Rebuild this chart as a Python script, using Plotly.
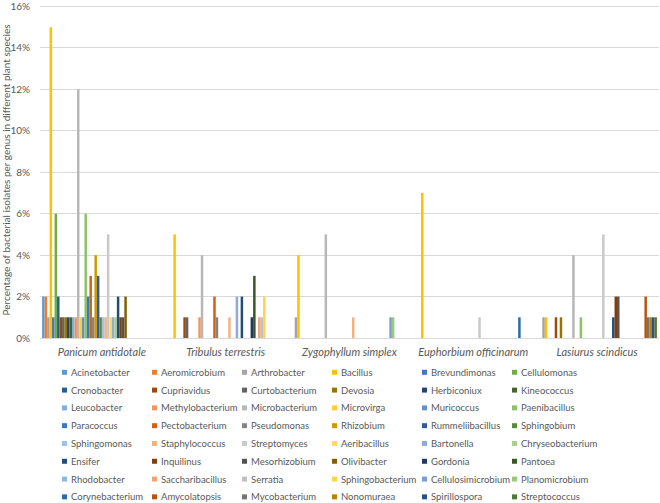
import colorsys
import plotly.graph_objects as go

plants = ["Panicum antidotale", "Tribulus terrestris", "Zygophyllum simplex",
          "Euphorbium officinarum", "Lasiurus scindicus"]

genera = [
    "Acinetobacter", "Aeromicrobium", "Arthrobacter", "Bacillus", "Brevundimonas", "Cellulomonas",
    "Cronobacter", "Cupriavidus", "Curtobacterium", "Devosia", "Herbiconiux", "Kineococcus",
    "Leucobacter", "Methylobacterium", "Microbacterium", "Microvirga", "Muricoccus", "Paenibacillus",
    "Paracoccus", "Pectobacterium", "Pseudomonas", "Rhizobium", "Rummeliibacillus", "Sphingobium",
    "Sphingomonas", "Staphylococcus", "Streptomyces", "Aeribacillus", "Bartonella", "Chryseobacterium",
    "Ensifer", "Inquilinus", "Mesorhizobium", "Olivibacter", "Gordonia", "Pantoea",
    "Rhodobacter", "Saccharibacillus", "Serratia", "Sphingobacterium", "Cellulosimicrobium", "Planomicrobium",
    "Corynebacterium", "Amycolatopsis", "Mycobacterium", "Nonomuraea", "Spirillospora", "Streptococcus",
]

# % of isolates per genus, one list per plant (same order as genera)
panicum = [2, 2, 1, 15, 1, 6,
           2, 1, 1, 1, 1, 1,
           1, 1, 12, 1, 1, 6,
           2, 3, 1, 4, 3, 1,
           1, 1, 5, 1, 1, 1,
           2, 1, 1, 2, 0, 0,
           0, 0, 0, 0, 0, 0,
           0, 0, 0, 0, 0, 0]
tribulus = [0, 0, 0, 5, 0, 0,
            0, 1, 1, 0, 0, 0,
            0, 1, 4, 0, 0, 0,
            0, 2, 1, 0, 0, 0,
            0, 1, 0, 0, 2, 0,
            2, 0, 0, 0, 1, 3,
            0, 1, 1, 2, 0, 0,
            0, 0, 0, 0, 0, 0]
zygophyllum = [0, 0, 1, 4, 0, 0,
               0, 0, 0, 0, 0, 0,
               0, 0, 5, 0, 0, 0,
               0, 0, 0, 0, 0, 0,
               0, 1, 0, 0, 0, 0,
               0, 0, 0, 0, 0, 0,
               0, 0, 0, 0, 1, 1,
               0, 0, 0, 0, 0, 0]
euphorbium = [0, 0, 0, 7, 0, 0,
              0, 0, 0, 0, 0, 0,
              0, 0, 0, 0, 0, 0,
              0, 0, 0, 0, 0, 0,
              0, 0, 1, 0, 0, 0,
              0, 0, 0, 0, 0, 0,
              0, 0, 0, 0, 0, 0,
              1, 0, 0, 0, 0, 0]
lasiurus = [0, 0, 1, 1, 0, 0,
            0, 1, 0, 1, 0, 0,
            0, 0, 4, 0, 0, 1,
            0, 0, 0, 0, 0, 0,
            0, 0, 5, 0, 0, 0,
            1, 2, 2, 0, 0, 0,
            0, 0, 0, 0, 0, 0,
            0, 2, 1, 1, 1, 1]

# office theme accents, then the lum variations excel cycles through
accents = ["#5B9BD5", "#ED7D31", "#A5A5A5", "#FFC000", "#4472C4", "#70AD47"]
lum_steps = [(1, 0), (0.6, 0), (0.8, 0.2), (0.8, 0), (0.6, 0.4), (0.5, 0), (0.7, 0.3), (0.7, 0)]


def shade(hex_color, mod, off):
    r, g, b = (int(hex_color[i:i + 2], 16) / 255 for i in (1, 3, 5))
    h, l, s = colorsys.rgb_to_hls(r, g, b)
    l = min(1, l * mod + off)
    r, g, b = colorsys.hls_to_rgb(h, l, s)
    return "#%02x%02x%02x" % (round(r * 255), round(g * 255), round(b * 255))


colors = [shade(a, m, o) for m, o in lum_steps for a in accents]

FONT = "Lato, Calibri, sans-serif"
GREY = "#595959"
W, H = 660, 503
ML, MR, MT, MB = 40, 1, 0, 165
YTOP = 16.216  # leaves the 16% gridline ~4px below the top edge

fig = go.Figure()
for i, name in enumerate(genera):
    fig.add_trace(go.Bar(
        x=plants,
        y=[panicum[i], tribulus[i], zygophyllum[i], euphorbium[i], lasiurus[i]],
        name=name,
        marker=dict(color=colors[i], line=dict(width=0)),
        showlegend=False,
    ))

# legend drawn by hand: 6 columns x 8 rows of small squares like excel
pw, ph = W - ML - MR, H - MT - MB


def px_x(px):
    return (px - ML) / pw


def px_y(py):
    return (H - MB - py) / ph


shapes, notes = [], []
for i, name in enumerate(genera):
    col, row = i % 6, i // 6
    x0 = 62 + 90 * col
    yc = 372.5 + 17.9 * row
    shapes.append(dict(type="rect", xref="paper", yref="paper",
                       x0=px_x(x0), x1=px_x(x0 + 5), y0=px_y(yc + 2.5), y1=px_y(yc - 2.5),
                       fillcolor=colors[i], line=dict(width=0)))
    notes.append(dict(text=name, xref="paper", yref="paper", x=px_x(x0 + 7), y=px_y(yc),
                      xanchor="left", yanchor="middle", showarrow=False,
                      font=dict(family=FONT, size=9.5, color=GREY)))

fig.update_layout(
    width=W, height=H,
    margin=dict(l=ML, r=MR, t=MT, b=MB),
    paper_bgcolor="white", plot_bgcolor="white",
    barmode="group", bargap=0.034, bargroupgap=0,
    font=dict(family=FONT, color=GREY),
    shapes=shapes, annotations=notes,
    xaxis=dict(showline=True, linecolor="#D9D9D9", linewidth=1, showgrid=False,
               tickfont=dict(family=FONT, size=11, color=GREY, style="italic"),
               ticklabelstandoff=4),
    yaxis=dict(range=[0, YTOP], tickmode="linear", tick0=0, dtick=2, ticksuffix="%",
               showgrid=True, gridcolor="#D9D9D9", gridwidth=1, zeroline=False,
               ticklabeloverflow="allow",
               tickfont=dict(family=FONT, size=10, color=GREY), ticklabelstandoff=9,
               title=dict(text="Percentage of bacterial isolates per genus in different plant species",
                          font=dict(family=FONT, size=10, color=GREY), standoff=2)),
)

# page has an 8px body margin by default, drop it so the chart sits at 0,0
fig.write_html("out.html", config={"displayModeBar": False},
               post_script="document.body.style.margin = '0';")
